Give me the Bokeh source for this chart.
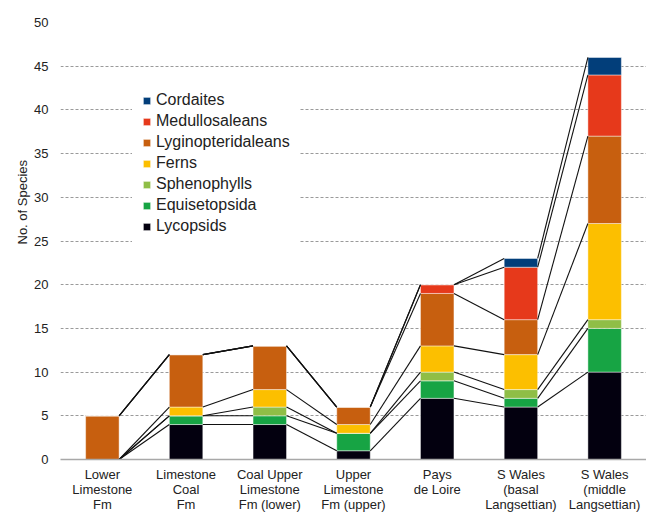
import math
from bokeh.plotting import figure
from bokeh.models import ColumnDataSource, Range1d, FixedTicker, Legend, LegendItem, Title
from bokeh.embed import file_html
from bokeh.resources import INLINE

categories = [
    "Lower\nLimestone\nFm",
    "Limestone\nCoal\nFm",
    "Coal Upper\nLimestone\nFm (lower)",
    "Upper\nLimestone\nFm (upper)",
    "Pays\nde Loire",
    "S Wales\n(basal\nLangsettian)",
    "S Wales\n(middle\nLangsettian)",
]
series_names = ["Lycopsids", "Equisetopsida", "Sphenophylls", "Ferns",
                "Lyginopteridaleans", "Medullosaleans", "Cordaites"]
lycopsids = [0, 4, 4, 1, 7, 6, 10]
equisetopsida = [0, 1, 1, 2, 2, 1, 5]
sphenophylls = [0, 0, 1, 0, 1, 1, 1]
ferns = [0, 1, 2, 1, 3, 4, 11]
lyginopteridaleans = [5, 6, 5, 2, 6, 4, 10]
medullosaleans = [0, 0, 0, 0, 1, 6, 7]
cordaites = [0, 0, 0, 0, 0, 1, 2]
y_ticks = [0, 5, 10, 15, 20, 25, 30, 35, 40, 45, 50]

colors = ["#03000f", "#17a444", "#8fbe46", "#fcbf00", "#c75f0f", "#e6391b", "#023e7a"]
values = [lycopsids, equisetopsida, sphenophylls, ferns,
          lyginopteridaleans, medullosaleans, cordaites]

FONT = "Liberation Sans"
n = len(categories)
xs = list(range(n))
bar_w = 0.4

data = {"x": xs}
for name, vals in zip(series_names, values):
    data[name] = vals
source = ColumnDataSource(data)

p = figure(width=646, height=514, output_backend="svg", toolbar_location=None,
           x_range=Range1d(-0.5, n - 0.5), y_range=Range1d(0, 50),
           min_border_left=60, min_border_right=0, min_border_top=22,
           min_border_bottom=54)
p.outline_line_color = None

renderers = p.vbar_stack(series_names, x="x", width=bar_w, source=source,
                         color=colors, line_color="white", line_alpha=0.45,
                         line_width=1)

# connecting lines between cumulative boundaries
x0s, y0s, x1s, y1s = [], [], [], []
cum = [0] * n
for vals in values:
    cum = [c + v for c, v in zip(cum, vals)]
    for i in range(n - 1):
        x0s.append(xs[i] + bar_w / 2)
        y0s.append(cum[i])
        x1s.append(xs[i + 1] - bar_w / 2)
        y1s.append(cum[i + 1])
p.segment(x0=x0s, y0=y0s, x1=x1s, y1=y1s, line_color="#111111", line_width=1.1)

# axes
p.xaxis.ticker = FixedTicker(ticks=xs)
p.xaxis.major_label_overrides = {i: c for i, c in enumerate(categories)}
p.xaxis.major_tick_line_color = None
p.xaxis.minor_tick_line_color = None
p.xaxis.axis_line_color = "#a8a8a8"
p.xaxis.axis_line_width = 1.5
p.xaxis.major_label_text_font = FONT
p.xaxis.major_label_text_font_size = "13px"
p.xaxis.major_label_text_color = "#222222"
p.xaxis.major_label_text_line_height = 1.0
p.xaxis.major_label_standoff = 1

p.yaxis.ticker = FixedTicker(ticks=y_ticks)
p.yaxis.axis_line_color = None
p.yaxis.major_tick_line_color = None
p.yaxis.minor_tick_line_color = None
p.yaxis.major_label_text_font = FONT
p.yaxis.major_label_text_font_size = "13px"
p.yaxis.major_label_text_color = "#222222"
p.yaxis.major_label_standoff = 6

p.xgrid.grid_line_color = None
p.ygrid.ticker = FixedTicker(ticks=y_ticks[1:])
p.ygrid.grid_line_color = "#9a9a9a"
p.ygrid.grid_line_dash = "3 2"
p.ygrid.grid_line_width = 1

p.add_layout(Title(text="No. of Species", align="left", offset=215, standoff=4,
                   text_font=FONT, text_font_size="13px", text_font_style="normal",
                   text_color="#222222"), "left")

items = [LegendItem(label=name, renderers=[r])
         for name, r in reversed(list(zip(series_names, renderers)))]
legend = Legend(items=items, location=(72, 213), padding=10, margin=0, spacing=1,
                label_height=20, glyph_width=9, glyph_height=9, label_standoff=5,
                label_text_font=FONT, label_text_font_size="16px",
                label_text_color="#222222", border_line_alpha=0,
                background_fill_color="white", background_fill_alpha=1)
p.add_layout(legend)

open("out.html", "w").write(file_html(p, INLINE))
